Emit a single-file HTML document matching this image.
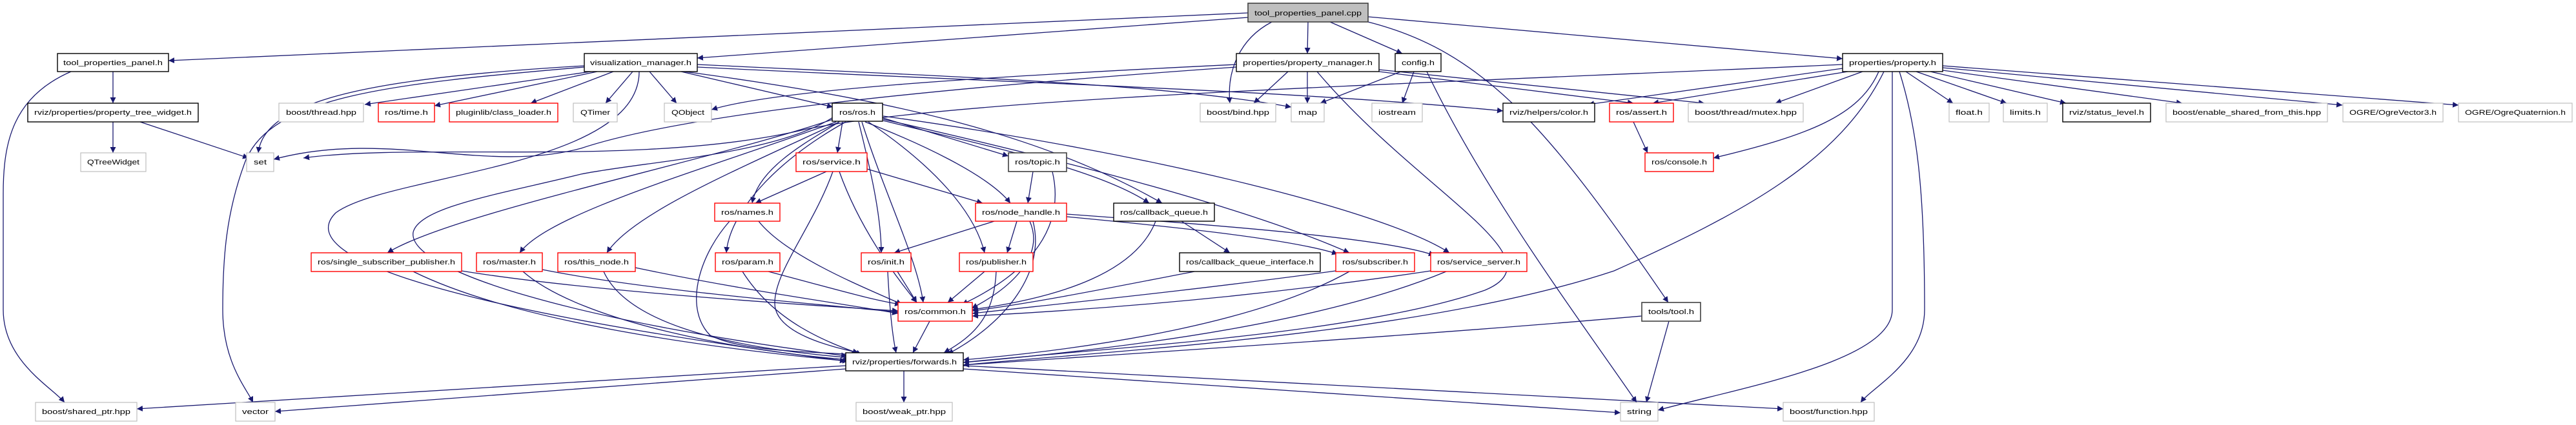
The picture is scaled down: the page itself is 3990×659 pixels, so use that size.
<!DOCTYPE html>
<html><head><meta charset="utf-8"><style>
html,body{margin:0;padding:0;background:#fff;}
svg{display:block;}
text{font-family:"Liberation Sans","DejaVu Sans",sans-serif;font-size:11px;fill:#000;}
.e{fill:none;stroke:#191970;stroke-width:1.3;marker-end:url(#a);}
.b{fill:#fff;stroke:#000;stroke-width:1.4;}
.g{fill:#fff;stroke:#bfbfbf;stroke-width:1.2;}
.r{fill:#fff;stroke:#ff0000;stroke-width:1.4;}
</style></head><body>
<svg width="3990" height="659" viewBox="0 0 3990 659" xmlns="http://www.w3.org/2000/svg">
<defs><marker id="a" markerUnits="userSpaceOnUse" markerWidth="11" markerHeight="11" refX="9" refY="5" orient="auto"><path d="M0,0.5 L9,5 L0,9.5 z" fill="#191970"/></marker></defs>
<g>
<path class="e" d="M1933 20 L261 94"/>
<path class="e" d="M1933 27 L1080 90"/>
<path class="e" d="M2026 34 L2025 83"/>
<path class="e" d="M2060 34 L2172 83"/>
<path class="e" d="M2119 26 L2854 91"/>
<path class="e" d="M1970 34 C1920 60 1900 110 1905 160"/>
<path class="e" d="M2119 34 C2300 80 2400 200 2584 469"/>
<path class="e" d="M110 111 C20 150 5 220 5 300 L5 480 C5 560 80 600 100 624"/>
<path class="e" d="M175 111 L175 160"/>
<path class="e" d="M175 189 L175 237"/>
<path class="e" d="M217 189 L385 245"/>
<path class="e" d="M905 102 C600 120 410 150 400 237"/>
<path class="e" d="M905 104 C600 130 420 150 380 250 C350 330 345 400 345 480 C345 560 380 600 392 624"/>
<path class="e" d="M915 111 L565 162"/>
<path class="e" d="M925 111 L673 164"/>
<path class="e" d="M950 111 L822 160"/>
<path class="e" d="M980 111 L938 160"/>
<path class="e" d="M1006 111 L1048 160"/>
<path class="e" d="M1055 111 L1290 166"/>
<path class="e" d="M990 111 C990 260 600 270 520 330 C450 400 700 480 1310 560"/>
<path class="e" d="M1080 100 C1500 120 1800 130 2000 166"/>
<path class="e" d="M1080 104 C1600 130 2000 140 2328 172"/>
<path class="e" d="M1060 111 C1350 150 1600 200 1800 315"/>
<path class="e" d="M1915 100 C1500 120 1200 140 1102 170"/>
<path class="e" d="M1915 104 C1400 140 1050 180 900 230 C750 270 600 200 424 247"/>
<path class="e" d="M2854 100 C2200 130 1500 150 1250 200 C1000 260 650 220 470 245"/>
<path class="e" d="M1995 111 L1942 160"/>
<path class="e" d="M2025 111 L2025 160"/>
<path class="e" d="M2040 111 C2200 300 2420 400 2300 450 C2100 520 1700 540 1492 562"/>
<path class="e" d="M2136 111 L2530 160"/>
<path class="e" d="M2136 108 L2640 160"/>
<path class="e" d="M2170 111 L2045 160"/>
<path class="e" d="M2190 111 L2172 160"/>
<path class="e" d="M2210 111 C2300 300 2450 500 2535 624"/>
<path class="e" d="M2854 106 L2460 162"/>
<path class="e" d="M2862 111 L2560 160"/>
<path class="e" d="M2885 111 L2750 160"/>
<path class="e" d="M2910 111 C2880 180 2800 210 2654 245"/>
<path class="e" d="M2918 111 C2850 250 2700 330 2500 420 C2200 520 1700 545 1492 566"/>
<path class="e" d="M2931 111 L2931 480 C2931 560 2700 600 2568 636"/>
<path class="e" d="M2942 111 C2970 200 2981 300 2981 480 C2981 560 2900 600 2882 624"/>
<path class="e" d="M2952 111 L3025 160"/>
<path class="e" d="M2968 111 L3108 160"/>
<path class="e" d="M2990 111 L3200 160"/>
<path class="e" d="M3009 109 L3380 160"/>
<path class="e" d="M3009 105 L3628 163"/>
<path class="e" d="M3009 102 L3808 163"/>
<path class="e" d="M2530 189 L2552 237"/>
<path class="e" d="M1305 189 L1297 237"/>
<path class="e" d="M1368 183 L1562 242"/>
<path class="e" d="M1300 189 C1250 220 1175 260 1165 315"/>
<path class="e" d="M1340 189 C1420 220 1530 270 1565 315"/>
<path class="e" d="M1368 187 C1500 220 1700 260 1780 315"/>
<path class="e" d="M1290 185 C1100 250 700 330 600 392"/>
<path class="e" d="M1295 189 C1100 260 850 330 805 392"/>
<path class="e" d="M1300 189 C1150 260 980 330 940 392"/>
<path class="e" d="M1310 189 C1200 250 1130 330 1125 392"/>
<path class="e" d="M1330 189 C1345 250 1365 330 1365 392"/>
<path class="e" d="M1335 189 C1370 300 1420 400 1430 469"/>
<path class="e" d="M1345 189 C1450 260 1510 330 1525 392"/>
<path class="e" d="M1368 185 C1700 260 1950 330 2090 392"/>
<path class="e" d="M1368 180 C1800 240 2150 330 2245 392"/>
<path class="e" d="M1290 182 C1200 240 1000 250 900 270 C780 300 650 320 640 360 C630 420 900 500 1312 552"/>
<path class="e" d="M1280 266 L1170 315"/>
<path class="e" d="M1343 262 L1522 315"/>
<path class="e" d="M1300 266 C1330 350 1380 420 1420 469"/>
<path class="e" d="M1290 266 C1260 350 1200 420 1200 470 C1200 520 1300 540 1330 547"/>
<path class="e" d="M1600 266 L1592 315"/>
<path class="e" d="M1630 266 C1650 350 1600 420 1490 472"/>
<path class="e" d="M1130 343 C1080 400 1060 480 1100 520 C1150 545 1250 545 1328 550"/>
<path class="e" d="M1175 343 C1220 400 1350 450 1397 472"/>
<path class="e" d="M1540 343 L1385 392"/>
<path class="e" d="M1575 343 L1560 392"/>
<path class="e" d="M1652 336 C1800 350 2000 370 2072 394"/>
<path class="e" d="M1652 332 C1900 350 2150 370 2222 396"/>
<path class="e" d="M1595 343 C1620 400 1560 450 1505 478"/>
<path class="e" d="M1600 343 C1620 420 1560 500 1468 549"/>
<path class="e" d="M1790 343 C1760 420 1650 460 1506 480"/>
<path class="e" d="M1830 343 L1905 392"/>
<path class="e" d="M715 420 C900 450 1200 470 1391 482"/>
<path class="e" d="M640 421 C800 500 1100 540 1314 560"/>
<path class="e" d="M840 418 C1000 450 1250 470 1391 484"/>
<path class="e" d="M810 421 C900 500 1150 545 1316 558"/>
<path class="e" d="M984 415 C1150 450 1300 470 1391 486"/>
<path class="e" d="M935 421 C980 520 1200 545 1320 555"/>
<path class="e" d="M1190 421 C1300 450 1350 465 1395 472"/>
<path class="e" d="M1150 421 C1200 500 1280 530 1335 550"/>
<path class="e" d="M1390 421 L1420 469"/>
<path class="e" d="M1375 421 C1378 480 1382 520 1388 547"/>
<path class="e" d="M1525 421 L1468 469"/>
<path class="e" d="M1543 421 C1540 490 1510 520 1462 547"/>
<path class="e" d="M1850 421 C1700 450 1600 470 1506 482"/>
<path class="e" d="M2069 420 C1850 450 1650 470 1506 486"/>
<path class="e" d="M2090 421 C1950 500 1700 540 1492 558"/>
<path class="e" d="M2216 420 C1950 460 1700 480 1506 490"/>
<path class="e" d="M2240 421 C2050 500 1750 540 1492 562"/>
<path class="e" d="M1440 498 L1414 547"/>
<path class="e" d="M2543 490 C2200 520 1800 545 1492 566"/>
<path class="e" d="M2585 498 L2550 624"/>
<path class="e" d="M1310 567 L212 634"/>
<path class="e" d="M1310 572 L426 638"/>
<path class="e" d="M1400 575 L1400 624"/>
<path class="e" d="M1492 572 L2510 640"/>
<path class="e" d="M1492 567 L2762 634"/>
</g>
<g>
<rect x="1933" y="5" width="186" height="29" fill="#bfbfbf" stroke="#404040" stroke-width="1.6"/><text x="1943" y="24" textLength="166" lengthAdjust="spacingAndGlyphs">tool_properties_panel.cpp</text>
<rect class="b" x="89" y="83" width="172" height="28"/><text x="98" y="101" textLength="154" lengthAdjust="spacingAndGlyphs">tool_properties_panel.h</text>
<rect class="b" x="905" y="83" width="175" height="28"/><text x="914" y="101" textLength="157" lengthAdjust="spacingAndGlyphs">visualization_manager.h</text>
<rect class="b" x="1915" y="83" width="221" height="28"/><text x="1925" y="101" textLength="201" lengthAdjust="spacingAndGlyphs">properties/property_manager.h</text>
<rect class="b" x="2161" y="83" width="71" height="28"/><text x="2171" y="101" textLength="51" lengthAdjust="spacingAndGlyphs">config.h</text>
<rect class="b" x="2854" y="83" width="155" height="28"/><text x="2864" y="101" textLength="135" lengthAdjust="spacingAndGlyphs">properties/property.h</text>

<rect class="b" x="43" y="160" width="264" height="29"/><text x="53" y="178" textLength="244" lengthAdjust="spacingAndGlyphs">rviz/properties/property_tree_widget.h</text>
<rect class="g" x="432" y="160" width="131" height="29"/><text x="443" y="178" textLength="109" lengthAdjust="spacingAndGlyphs">boost/thread.hpp</text>
<rect class="r" x="586" y="160" width="87" height="29"/><text x="596" y="178" textLength="67" lengthAdjust="spacingAndGlyphs">ros/time.h</text>
<rect class="r" x="696" y="160" width="168" height="29"/><text x="706" y="178" textLength="148" lengthAdjust="spacingAndGlyphs">pluginlib/class_loader.h</text>
<rect class="g" x="888" y="160" width="68" height="29"/><text x="899" y="178" textLength="46" lengthAdjust="spacingAndGlyphs">QTimer</text>
<rect class="g" x="1029" y="160" width="73" height="29"/><text x="1040" y="178" textLength="51" lengthAdjust="spacingAndGlyphs">QObject</text>
<rect class="b" x="1289" y="160" width="78" height="28"/><text x="1300" y="178" textLength="56" lengthAdjust="spacingAndGlyphs">ros/ros.h</text>
<rect class="g" x="1859" y="160" width="117" height="29"/><text x="1869" y="178" textLength="97" lengthAdjust="spacingAndGlyphs">boost/bind.hpp</text>
<rect class="g" x="2000" y="160" width="51" height="29"/><text x="2011" y="178" textLength="29" lengthAdjust="spacingAndGlyphs">map</text>
<rect class="g" x="2125" y="160" width="78" height="29"/><text x="2135" y="178" textLength="58" lengthAdjust="spacingAndGlyphs">iostream</text>
<rect class="b" x="2328" y="160" width="142" height="29"/><text x="2338" y="178" textLength="122" lengthAdjust="spacingAndGlyphs">rviz/helpers/color.h</text>
<rect class="r" x="2493" y="160" width="99" height="29"/><text x="2503" y="178" textLength="79" lengthAdjust="spacingAndGlyphs">ros/assert.h</text>
<rect class="g" x="2615" y="160" width="178" height="29"/><text x="2625" y="178" textLength="158" lengthAdjust="spacingAndGlyphs">boost/thread/mutex.hpp</text>
<rect class="g" x="3019" y="160" width="62" height="29"/><text x="3029" y="178" textLength="42" lengthAdjust="spacingAndGlyphs">float.h</text>
<rect class="g" x="3103" y="160" width="68" height="29"/><text x="3113" y="178" textLength="48" lengthAdjust="spacingAndGlyphs">limits.h</text>
<rect class="b" x="3195" y="160" width="136" height="29"/><text x="3205" y="178" textLength="116" lengthAdjust="spacingAndGlyphs">rviz/status_level.h</text>
<rect class="g" x="3355" y="160" width="250" height="29"/><text x="3365" y="178" textLength="230" lengthAdjust="spacingAndGlyphs">boost/enable_shared_from_this.hpp</text>
<rect class="g" x="3629" y="160" width="155" height="29"/><text x="3639" y="178" textLength="135" lengthAdjust="spacingAndGlyphs">OGRE/OgreVector3.h</text>
<rect class="g" x="3808" y="160" width="176" height="29"/><text x="3818" y="178" textLength="156" lengthAdjust="spacingAndGlyphs">OGRE/OgreQuaternion.h</text>

<rect class="g" x="125" y="237" width="101" height="29"/><text x="135" y="255" textLength="81" lengthAdjust="spacingAndGlyphs">QTreeWidget</text>
<rect class="g" x="382" y="237" width="42" height="29"/><text x="393" y="255" textLength="20" lengthAdjust="spacingAndGlyphs">set</text>
<rect class="r" x="1233" y="237" width="110" height="29"/><text x="1243" y="255" textLength="90" lengthAdjust="spacingAndGlyphs">ros/service.h</text>
<rect x="1562" y="237" width="90" height="29" fill="#fff" stroke="#404040" stroke-width="1.6"/><text x="1572" y="255" textLength="70" lengthAdjust="spacingAndGlyphs">ros/topic.h</text>
<rect class="r" x="2548" y="237" width="106" height="29"/><text x="2558" y="255" textLength="86" lengthAdjust="spacingAndGlyphs">ros/console.h</text>

<rect class="r" x="1107" y="315" width="101" height="28"/><text x="1117" y="333" textLength="81" lengthAdjust="spacingAndGlyphs">ros/names.h</text>
<rect class="r" x="1511" y="315" width="141" height="28"/><text x="1521" y="333" textLength="121" lengthAdjust="spacingAndGlyphs">ros/node_handle.h</text>
<rect class="b" x="1725" y="315" width="156" height="28"/><text x="1735" y="333" textLength="136" lengthAdjust="spacingAndGlyphs">ros/callback_queue.h</text>

<rect class="r" x="482" y="392" width="233" height="29"/><text x="492" y="410" textLength="213" lengthAdjust="spacingAndGlyphs">ros/single_subscriber_publisher.h</text>
<rect class="r" x="738" y="392" width="102" height="29"/><text x="748" y="410" textLength="82" lengthAdjust="spacingAndGlyphs">ros/master.h</text>
<rect class="r" x="864" y="392" width="120" height="29"/><text x="874" y="410" textLength="100" lengthAdjust="spacingAndGlyphs">ros/this_node.h</text>
<rect class="r" x="1108" y="392" width="100" height="29"/><text x="1118" y="410" textLength="80" lengthAdjust="spacingAndGlyphs">ros/param.h</text>
<rect class="r" x="1334" y="392" width="77" height="29"/><text x="1344" y="410" textLength="57" lengthAdjust="spacingAndGlyphs">ros/init.h</text>
<rect class="r" x="1486" y="392" width="114" height="29"/><text x="1496" y="410" textLength="94" lengthAdjust="spacingAndGlyphs">ros/publisher.h</text>
<rect class="b" x="1827" y="392" width="218" height="29"/><text x="1837" y="410" textLength="198" lengthAdjust="spacingAndGlyphs">ros/callback_queue_interface.h</text>
<rect class="r" x="2069" y="392" width="122" height="29"/><text x="2079" y="410" textLength="102" lengthAdjust="spacingAndGlyphs">ros/subscriber.h</text>
<rect class="r" x="2216" y="392" width="149" height="29"/><text x="2226" y="410" textLength="129" lengthAdjust="spacingAndGlyphs">ros/service_server.h</text>

<rect class="r" x="1391" y="469" width="115" height="29"/><text x="1401" y="487" textLength="95" lengthAdjust="spacingAndGlyphs">ros/common.h</text>
<rect x="2543" y="469" width="91" height="29" fill="#fff" stroke="#404040" stroke-width="1.6"/><text x="2553" y="487" textLength="71" lengthAdjust="spacingAndGlyphs">tools/tool.h</text>

<rect class="b" x="1310" y="547" width="182" height="28"/><text x="1320" y="565" textLength="162" lengthAdjust="spacingAndGlyphs">rviz/properties/forwards.h</text>

<rect class="g" x="55" y="624" width="157" height="29"/><text x="65" y="642" textLength="137" lengthAdjust="spacingAndGlyphs">boost/shared_ptr.hpp</text>
<rect class="g" x="365" y="624" width="61" height="29"/><text x="375" y="642" textLength="41" lengthAdjust="spacingAndGlyphs">vector</text>
<rect class="g" x="1326" y="624" width="149" height="29"/><text x="1336" y="642" textLength="129" lengthAdjust="spacingAndGlyphs">boost/weak_ptr.hpp</text>
<rect class="g" x="2510" y="624" width="58" height="29"/><text x="2520" y="642" textLength="38" lengthAdjust="spacingAndGlyphs">string</text>
<rect class="g" x="2762" y="624" width="141" height="29"/><text x="2772" y="642" textLength="121" lengthAdjust="spacingAndGlyphs">boost/function.hpp</text>
</g>
</svg>
</body></html>
